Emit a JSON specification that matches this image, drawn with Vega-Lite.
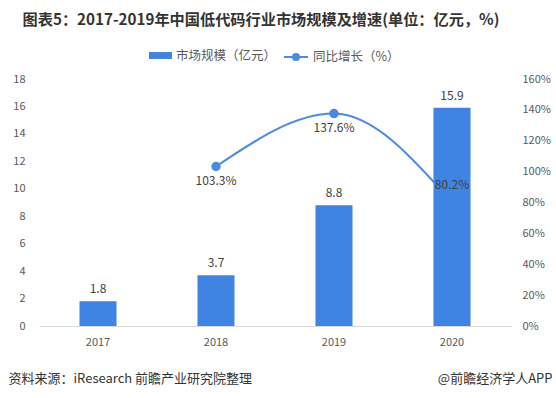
{
  "$schema": "https://vega.github.io/schema/vega-lite/v6.json",
  "autosize": "none",
  "width": 472,
  "height": 247,
  "padding": {"left": 39, "top": 79, "right": 45, "bottom": 72},
  "background": "white",
  "config": {
    "view": {"stroke": null},
    "font": "Noto Sans CJK SC",
    "axis": {"grid": false, "ticks": false, "labelFont": "Noto Sans CJK SC", "labelFontSize": 11, "labelColor": "#595959", "labelOverlap": false},
    "legend": {"labelFont": "Noto Sans CJK SC", "labelFontSize": 12.5, "labelColor": "#595959"}
  },
  "title": {
    "text": "图表5：2017-2019年中国低代码行业市场规模及增速(单位：亿元，%)",
    "font": "Noto Sans CJK SC",
    "fontSize": 15.2,
    "fontWeight": "bold",
    "color": "#333333",
    "anchor": "middle",
    "dx": -14,
    "offset": 16
  },
  "data": {
    "values": [
      {"year": "2017", "size": 1.8, "growth": null},
      {"year": "2018", "size": 3.7, "growth": 1.033},
      {"year": "2019", "size": 8.8, "growth": 1.376},
      {"year": "2020", "size": 15.9, "growth": 0.802}
    ]
  },
  "encoding": {
    "x": {
      "field": "year", "type": "nominal",
      "scale": {"paddingInner": 0.686, "paddingOuter": 0.343},
      "axis": {
        "labelAngle": 0, "labelPadding": 10, "domainColor": "#d9d9d9", "domainWidth": 1,
        "title": "资料来源：iResearch 前瞻产业研究院整理",
        "titleFont": "Noto Sans CJK SC", "titleFontSize": 13, "titleFontWeight": "normal", "titleColor": "#333333",
        "titleAnchor": "start", "titleAlign": "left", "titleBaseline": "middle", "titleX": -31, "titleY": 52
      }
    }
  },
  "layer": [
    {
      "transform": [{"filter": "datum.growth != null"}],
      "mark": {"type": "line", "interpolate": "monotone", "strokeWidth": 2, "color": "#4A8BE0",
               "point": {"filled": true, "size": 55, "color": "#4A8BE0"}},
      "encoding": {
        "y": {"field": "growth", "type": "quantitative",
              "scale": {"domain": [0, 1.6]},
              "axis": {"orient": "right", "format": ".0%", "values": [0,0.2,0.4,0.6,0.8,1.0,1.2,1.4,1.6], "domain": false, "labelPadding": 11,
                       "title": "@前瞻经济学人APP", "titleFont": "Noto Sans CJK SC", "titleFontSize": 13, "titleFontWeight": "normal", "titleColor": "#333333",
                       "titleAngle": 0, "titleAlign": "right", "titleBaseline": "middle", "titleX": 41, "titleY": 299}},
        "stroke": {"datum": "同比增长（%）", "type": "nominal",
                   "scale": {"range": ["#4A8BE0"]},
                   "legend": {"title": null, "orient": "none", "legendX": 244, "legendY": -35,
                              "symbolType": "M-1,0H1M-0.25,0A0.25,0.25 0 1,0 0.25,0A0.25,0.25 0 1,0 -0.25,0",
                              "symbolSize": 576, "symbolStrokeWidth": 2, "symbolFillColor": "#4A8BE0", "symbolStrokeColor": "#4A8BE0"}}
      }
    },
    {
      "mark": {"type": "bar", "color": "#3F84E2"},
      "encoding": {
        "y": {"field": "size", "type": "quantitative",
              "scale": {"domain": [0, 18]},
              "axis": {"values": [0,2,4,6,8,10,12,14,16,18], "domain": false, "labelPadding": 14, "title": null}},
        "fill": {"datum": "市场规模（亿元）", "type": "nominal",
                 "scale": {"range": ["#3F84E2"]},
                 "legend": {"title": null, "orient": "none", "legendX": 110, "legendY": -35,
                            "symbolType": "M-1,-0.3H1V0.3H-1Z", "symbolSize": 529, "symbolStrokeWidth": 0}}
      }
    },
    {
      "mark": {"type": "text", "baseline": "bottom", "dy": -5, "fontSize": 12, "color": "#404040", "font": "Noto Sans CJK SC"},
      "encoding": {
        "y": {"field": "size", "type": "quantitative", "scale": {"domain": [0, 18]}, "axis": null},
        "text": {"field": "size", "type": "quantitative", "format": ".1f"}
      }
    },
    {
      "transform": [{"filter": "datum.growth != null && datum.year != '2020'"}],
      "mark": {"type": "text", "baseline": "middle", "dy": 14, "fontSize": 12, "color": "#404040", "font": "Noto Sans CJK SC"},
      "encoding": {
        "y": {"field": "growth", "type": "quantitative", "scale": {"domain": [0, 1.6]}, "axis": null},
        "text": {"field": "growth", "type": "quantitative", "format": ".1%"}
      }
    },
    {
      "transform": [{"filter": "datum.year == '2020'"}],
      "mark": {"type": "text", "baseline": "middle", "dy": -17, "fontSize": 12, "color": "#404040", "font": "Noto Sans CJK SC"},
      "encoding": {
        "y": {"field": "growth", "type": "quantitative", "scale": {"domain": [0, 1.6]}, "axis": null},
        "text": {"field": "growth", "type": "quantitative", "format": ".1%"}
      }
    }
  ],
  "resolve": {"scale": {"y": "independent"}, "axis": {"y": "independent"}}
}
